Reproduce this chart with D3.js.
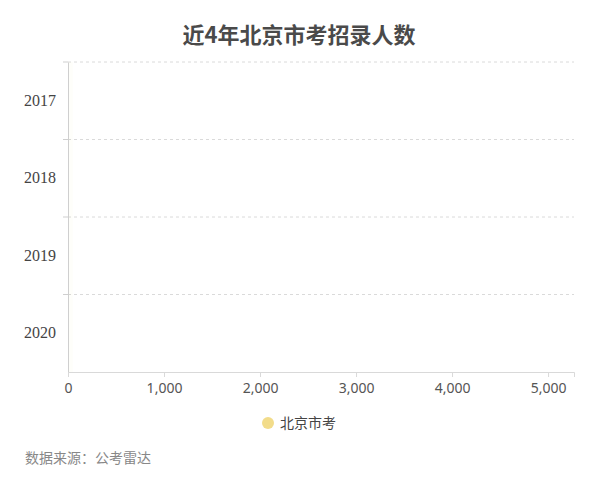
<!DOCTYPE html>
<html>
<head>
<meta charset="utf-8">
<script src="https://cdn.jsdelivr.net/npm/d3@7"></script>
<style>
  body { margin: 0; background: #fff; }
  #chart_container { width: 600px; height: 493px; }
</style>
</head>
<body>
<div id="chart_container"></div>
<script>
// data
const years = ["2017", "2018", "2019", "2020"]
const seriesName = "北京市考"
const recruits = [50, 50, 50, 50]   // bars barely visible in the picture
const xTicks = [0, 1000, 2000, 3000, 4000, 5000]
const xMax = 5270

const width = 600
const height = 493
const margin = {top: 62, right: 26, bottom: 121, left: 68}

const svg = d3.select("#chart_container")
    .append("svg")
    .attr("width", width)
    .attr("height", height)

svg.append("text")
    .attr("x", width / 2 - 1)
    .attr("y", 43)
    .attr("text-anchor", "middle")
    .attr("font-family", "'Noto Sans CJK SC', sans-serif")
    .attr("font-size", 22)
    .attr("font-weight", "bold")
    .attr("fill", "#4a4a4a")
    .text("近4年北京市考招录人数")

const x = d3.scaleLinear()
    .domain([0, xMax])
    .range([margin.left, width - margin.right])

const y = d3.scaleBand()
    .domain(years)
    .range([margin.top, height - margin.bottom])

// dashed grid at category boundaries
svg.append("g")
    .selectAll("line")
    .data(years)
    .enter().append("line")
    .attr("x1", margin.left)
    .attr("x2", width - margin.right)
    .attr("y1", d => y(d))
    .attr("y2", d => y(d))
    .attr("stroke", "#dadada")
    .attr("stroke-dasharray", "3,3")

// bars
svg.append("g")
    .selectAll("rect")
    .data(recruits)
    .enter().append("rect")
    .attr("x", x(0))
    .attr("y", (d, i) => y(years[i]))
    .attr("width", d => x(d) - x(0))
    .attr("height", y.bandwidth())
    .attr("fill", "#f2dc8a")
    .attr("opacity", 0.04)

// y axis
const yAxis = svg.append("g")
    .attr("transform", `translate(${margin.left},0)`)
    .call(d3.axisLeft(y).tickSize(0).tickPadding(12))
yAxis.select(".domain").attr("stroke", "#cfcfcf")
yAxis.selectAll("text")
    .attr("font-family", "'Liberation Serif', serif")
    .attr("font-size", 16)
    .attr("fill", "#444")
yAxis.selectAll(".bound")
    .data(years)
    .enter().append("line")
    .attr("x1", -5).attr("x2", 0)
    .attr("y1", d => y(d)).attr("y2", d => y(d))
    .attr("stroke", "#cfcfcf")

// x axis
const xAxis = svg.append("g")
    .attr("transform", `translate(0,${height - margin.bottom})`)
    .call(d3.axisBottom(x).tickValues(xTicks).tickFormat(d3.format(",")).tickSizeOuter(0).tickSize(5).tickPadding(6))
xAxis.select(".domain").attr("stroke", "#d9d9d9")
xAxis.selectAll(".tick line").attr("stroke", "#d9d9d9")
xAxis.selectAll("text")
    .attr("font-family", "'Noto Sans', sans-serif")
    .attr("font-size", 14)
    .attr("fill", "#555")

// legend
const legend = svg.append("g").attr("transform", "translate(268,423)")
legend.append("circle").attr("r", 6).attr("fill", "#f2dc8a")
legend.append("text")
    .attr("x", 12)
    .attr("dy", "0.35em")
    .attr("font-family", "'Noto Sans CJK SC', sans-serif")
    .attr("font-size", 14)
    .attr("fill", "#444")
    .text(seriesName)

// source
svg.append("text")
    .attr("x", 25)
    .attr("y", 463)
    .attr("font-family", "'Noto Sans CJK SC', sans-serif")
    .attr("font-size", 14)
    .attr("fill", "#888")
    .text("数据来源：公考雷达")
</script>
</body>
</html>
